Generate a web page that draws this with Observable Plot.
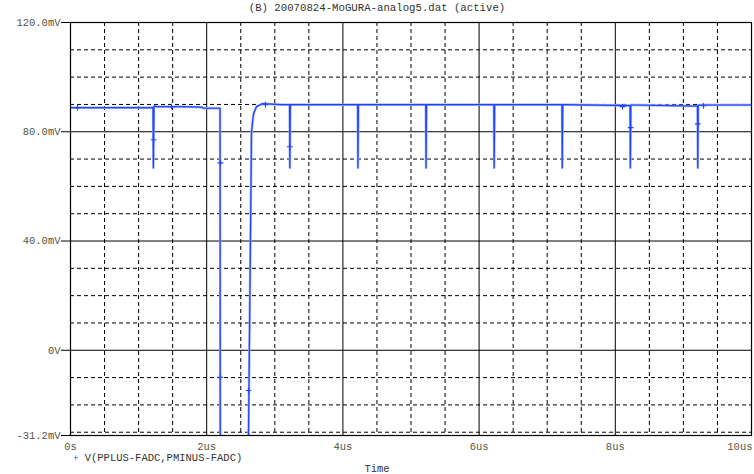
<!DOCTYPE html>
<html><head><meta charset="utf-8">
<script src="https://cdn.jsdelivr.net/npm/d3@7"></script>
<script src="https://cdn.jsdelivr.net/npm/@observablehq/plot@0.6"></script>
<style>
body{margin:0;background:#fff;width:754px;height:474px;overflow:hidden;font-family:"Liberation Mono","DejaVu Sans Mono",monospace;}
#title{height:16px;line-height:16px;text-align:center;font-size:10.7px;color:#333;}
#chart{height:437px;}
#legend{position:absolute;left:73px;top:453px;height:11px;line-height:11px;font-size:10.5px;color:#333;white-space:nowrap;}
#xlabel{position:absolute;left:0;width:754px;top:464px;height:10px;line-height:11px;text-align:center;font-size:10.5px;color:#333;}
#chart text{fill:#55553f;}
</style></head>
<body>
<div id="title">(B) 20070824-MoGURA-analog5.dat (active)</div>
<div id="chart"></div>
<div id="legend"><span style="color:#1f45ff;font-size:9px">+</span>&nbsp;V(PPLUS-FADC,PMINUS-FADC)</div>
<div id="xlabel">Time</div>
<script>
// Trace V(PPLUS-FADC,PMINUS-FADC): time in us, voltage in mV
const times = [0, 0.9, 1.212, 1.217, 1.226, 1.27, 1.6, 1.93, 1.95, 2.196, 2.2,
  2.6, 2.614, 2.658, 2.687, 2.731, 2.78, 2.82, 2.95, 3.1,
  3.217, 3.221, 3.228, 3.27,
  4.217, 4.221, 4.228, 4.27,
  5.217, 5.221, 5.228, 5.27,
  6.217, 6.221, 6.228, 6.27,
  7.217, 7.221, 7.228, 7.27,
  8.217, 8.221, 8.228, 8.27,
  9.207, 9.211, 9.218, 9.26, 10];
const volts = [88.8, 88.8, 88.8, 66.8, 89.4, 89.2, 89.2, 89.0, 88.6, 88.6, -60,
  -60, -31, 80, 86.5, 89.2, 89.8, 90.3, 90.1, 89.9,
  89.9, 66.8, 89.9, 89.9,
  89.9, 66.8, 89.9, 89.9,
  89.9, 66.8, 89.9, 89.9,
  89.9, 66.8, 89.9, 89.9,
  89.9, 66.8, 89.9, 89.9,
  89.6, 66.8, 89.8, 89.8,
  89.4, 66.8, 89.7, 89.8, 89.8];

// Trace markers
const markT = [0.103, 1.483, 1.219, 2.203, 2.203, 2.614, 2.863, 3.221, 8.106, 8.225, 9.211, 9.295];
const markV = [88.8, 89.2, 77.1, 68.6, -9.9, -14.7, 89.9, 74.5, 89.2, 81.5, 82.9, 89.5];

// Axis ticks and grid
const xTicks = [0, 2, 4, 6, 8, 10];
const xTickLabels = ["0s", "2us", "4us", "6us", "8us", "10us"];
const yTicks = [-31.2, 0, 40, 80, 120];
const yTickLabels = ["-31.2mV", "0V", "40.0mV", "80.0mV", "120.0mV"];
const xMajor = [2, 4, 6, 8];
const yMajor = [0, 40, 80];
const xMinor = [0.5, 1, 1.5, 2.5, 3, 3.5, 4.5, 5, 5.5, 6.5, 7, 7.5, 8.5, 9, 9.5];
const yMinor = [-30, -20, -10, 10, 20, 30, 50, 60, 70, 90, 100, 110];

const trace = times.map((t, i) => ({t, v: volts[i]}));
const marks = markT.map((t, i) => ({t, v: markV[i]}));
const blue = "#1f45ff";
const fmtX = d => xTickLabels[xTicks.indexOf(d)];

const chart = Plot.plot({
  width: 754,
  height: 437,
  marginLeft: 70,
  marginRight: 3,
  marginTop: 6,
  marginBottom: 18,
  style: {fontFamily: "Liberation Mono, DejaVu Sans Mono, monospace", fontSize: "10.5px", background: "#fff", color: "#000"},
  x: {domain: [0, 10]},
  y: {domain: [-31.2, 120]},
  marks: [
    Plot.ruleX(xMinor, {stroke: "#000", strokeWidth: 1, strokeDasharray: "4,3"}),
    Plot.ruleY(yMinor, {stroke: "#000", strokeWidth: 1, strokeDasharray: "4,3"}),
    Plot.ruleX(xMajor, {stroke: "#000", strokeWidth: 1}),
    Plot.ruleY(yMajor, {stroke: "#000", strokeWidth: 1}),
    Plot.line(trace, {x: "t", y: "v", stroke: "#9aaaff", strokeWidth: 2.4, clip: true}),
    Plot.line(trace, {x: "t", y: "v", stroke: blue, strokeWidth: 1.2, clip: true}),
    Plot.dot(marks, {x: "t", y: "v", symbol: "plus", r: 2, stroke: blue, strokeWidth: 1.1}),
    Plot.frame({stroke: "#000", strokeWidth: 1.2}),
    Plot.axisX(xTicks.slice(0, 5), {tickFormat: fmtX, tickSize: 0, tickPadding: 7, label: null}),
    Plot.axisX(xTicks.slice(5), {tickFormat: fmtX, tickSize: 0, tickPadding: 7, label: null, textAnchor: "end", dx: 1}),
    Plot.axisY({ticks: yTicks, tickFormat: d => yTickLabels[yTicks.indexOf(d)], tickSize: 9, tickPadding: 1, label: null})
  ]
});
document.getElementById("chart").appendChild(chart);
</script>
</body></html>
